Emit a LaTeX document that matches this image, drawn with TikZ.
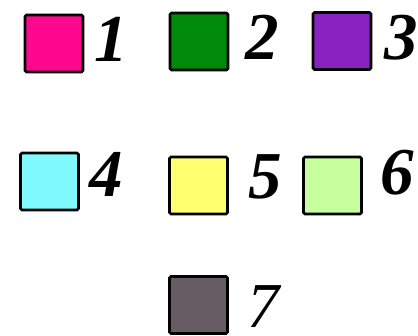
\documentclass[tikz,border=0pt]{standalone}
\usepackage{fontspec}
\setmainfont{Liberation Serif}
\usepackage{tikz}
\usetikzlibrary{positioning}
\definecolor{HotPink}{HTML}{FF0890}
\definecolor{LeafGreen}{HTML}{008A0A}
\definecolor{Violet}{HTML}{8A22C2}
\definecolor{SkyCyan}{HTML}{80FAFF}
\definecolor{PaleYellow}{HTML}{FFFF70}
\definecolor{PaleGreen}{HTML}{C8FF9E}
\definecolor{Slate}{HTML}{675C64}

\tikzset{
    swatch/.style={draw=black, line width=2.8pt, rounded corners=1.5pt,
        minimum width=58pt, minimum height=57pt, inner sep=0pt},
    numlabel/.style={anchor=base, inner sep=0pt,
        font=\fontsize{67}{67}\selectfont\bfseries\itshape}
}

\begin{document}
\begin{tikzpicture}[x=1pt, y=-1pt]
    \useasboundingbox (0,0) rectangle (418,336);
    % colour swatches with their numbers
    \foreach \n/\x/\y/\c/\lx/\ly in {1/54/43.5/HotPink/111/62, 2/199/41.5/LeafGreen/262/60,
        3/342/41/Violet/401/60, 4/49.5/181.5/SkyCyan/106/197, 5/198.5/185.5/PaleYellow/265/199,
        6/332.5/185.5/PaleGreen/397/195} {
        \node[swatch, fill=\c] (box\n) at (\x,\y) {};
        \node[numlabel] (num\n) at (\lx,\ly) {\n};
    }
    \node[swatch, fill=Slate] (box7) at (198.5,305) {};
    \node[numlabel, font=\fontsize{64}{64}\selectfont\itshape] (num7) at (263,328) {7};
\end{tikzpicture}
\end{document}
